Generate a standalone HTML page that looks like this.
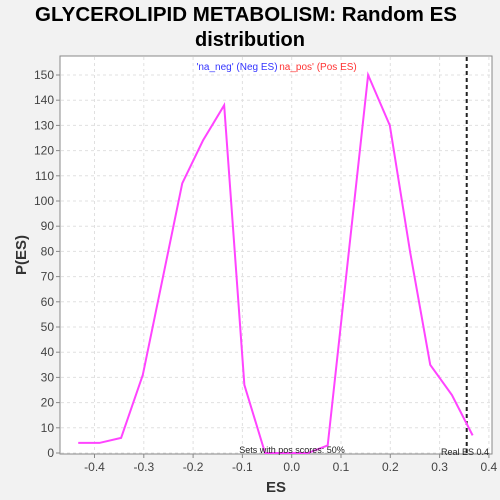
<!DOCTYPE html>
<html><head><meta charset="utf-8"><style>
body{margin:0;background:#f2f2f2;}
svg{display:block;font-family:"Liberation Sans",sans-serif;}
</style></head><body>
<svg id="c" width="500" height="500">
<defs><clipPath id="pc"><rect x="60" y="56" width="432" height="398"/></clipPath></defs>
<rect x="0" y="0" width="500" height="500" fill="#f2f2f2"/>
<text x="246" y="21" text-anchor="middle" font-size="20" font-weight="bold" textLength="422" lengthAdjust="spacingAndGlyphs">GLYCEROLIPID METABOLISM: Random ES</text>
<text x="250" y="46" text-anchor="middle" font-size="20" font-weight="bold">distribution</text>
<rect x="60" y="56" width="432" height="398" fill="#fff" stroke="#888"/>
<g id="grid"></g>
<g id="axes"></g>
<g id="series" clip-path="url(#pc)"></g>
<text x="237" y="70" text-anchor="middle" font-size="10" fill="#3333ff">'na_neg' (Neg ES)</text>
<text x="318" y="70" text-anchor="middle" font-size="10" fill="#ff3333">na_pos' (Pos ES)</text>
<text x="292" y="453" text-anchor="middle" font-size="9" fill="#222">Sets with pos scores: 50%</text>
<text x="489" y="455" text-anchor="end" font-size="9" fill="#222">Real ES 0.4</text>
<text x="276" y="492" text-anchor="middle" font-size="15" font-weight="bold" fill="#333">ES</text>
<text x="26" y="255" text-anchor="middle" font-size="15" font-weight="bold" fill="#333" transform="rotate(-90 26 255)">P(ES)</text>
</svg>
<script>
const esValues=[-0.433,-0.39,-0.346,-0.302,-0.222,-0.18,-0.137,-0.096,-0.054,0.033,0.073,0.155,0.199,0.24,0.281,0.325,0.367];
const probValues=[4,4,6,31,107,124,138,27,0,0,3,150,130,80,35,23,7];
const xTicks=[-0.4,-0.3,-0.2,-0.1,0.0,0.1,0.2,0.3,0.4];
const xTickLabels=["-0.4","-0.3","-0.2","-0.1","0.0","0.1","0.2","0.3","0.4"];
const yTicks=[0,10,20,30,40,50,60,70,80,90,100,110,120,130,140,150];
const realES=[0.355];
const NS="http://www.w3.org/2000/svg";
const xS=v=>291.7+v*493;
const yS=v=>453-v*2.52;
function mk(t,a,p){const e=document.createElementNS(NS,t);for(const k in a)e.setAttribute(k,a[k]);p.appendChild(e);return e;}
const grid=document.getElementById('grid'),axes=document.getElementById('axes'),ser=document.getElementById('series');
xTicks.forEach((v,i)=>{
const g=mk('line',{x1:xS(v),x2:xS(v),y1:57,y2:453,stroke:'#e0e0e0','stroke-dasharray':'3,3'},grid);


const tk=mk('line',{x1:xS(v),x2:xS(v),y1:454,y2:458,stroke:'#888'},axes);


const t=mk('text',{x:xS(v),y:471,'text-anchor':'middle','font-size':'12',fill:'#444'},axes);
t.textContent=xTickLabels[i];


});
yTicks.forEach(v=>{
const g=mk('line',{x1:61,x2:491,y1:yS(v),y2:yS(v),stroke:'#e0e0e0','stroke-dasharray':'3,3'},grid);


const tk=mk('line',{x1:56,x2:60,y1:yS(v),y2:yS(v),stroke:'#888'},axes);


const t=mk('text',{x:54,y:yS(v)+4,'text-anchor':'end','font-size':'12',fill:'#444'},axes);
t.textContent=String(v);


});
const r=mk('line',{x1:xS(realES[0]),x2:xS(realES[0]),y1:57,y2:453,stroke:'#222','stroke-width':2,'stroke-dasharray':'4,3'},ser);


const pl=mk('polyline',{points:esValues.map((v,i)=>xS(v)+','+yS(probValues[i])).join(' '),fill:'none',stroke:'#ff44ff','stroke-width':2},ser);


</script>
</body></html>
